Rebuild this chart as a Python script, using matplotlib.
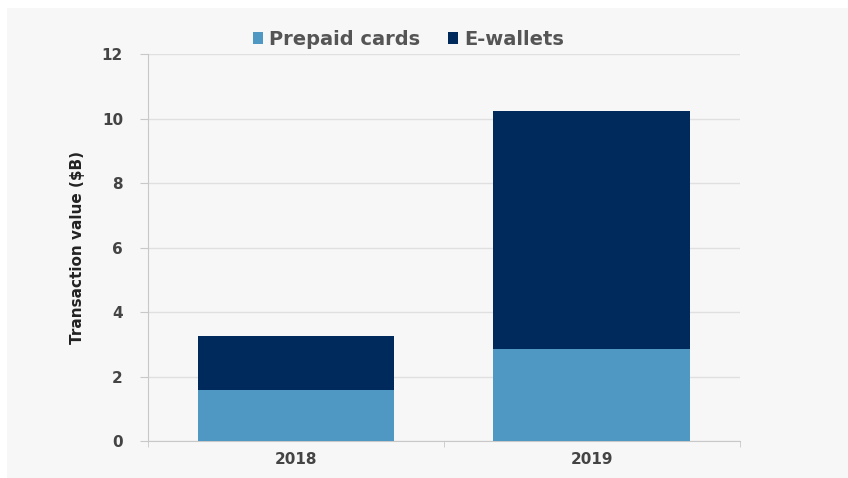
"""Stacked bars: prepaid cards vs e-wallets transaction value."""
import matplotlib.pyplot as plt
import matplotlib.patches as mpatches
import numpy as np

years = ["2018", "2019"]
prepaid = [1.58, 2.86]
ewallets = [1.68, 7.38]
yticks = [0, 2, 4, 6, 8, 10, 12]

PREPAID_C = "#4f98c3"
EWALLET_C = "#012a5c"
BG = "#f7f7f7"

fig = plt.figure(figsize=(8.48, 4.78), dpi=100, facecolor=BG)
# thin white margin along the top and left edges
fig.add_artist(mpatches.Rectangle((0, 1 - 8 / 478), 1, 8 / 478,
                                  transform=fig.transFigure,
                                  facecolor="white", edgecolor="none", zorder=-10))
fig.add_artist(mpatches.Rectangle((0, 0), 7 / 848, 1,
                                  transform=fig.transFigure,
                                  facecolor="white", edgecolor="none", zorder=-10))
ax = fig.add_axes([0.1745, 0.0774, 0.698, 0.8096], facecolor=BG)

x = np.arange(len(years))
ax.bar(x, prepaid, width=0.665, color=PREPAID_C, label="Prepaid cards", zorder=3)
ax.bar(x, ewallets, width=0.665, bottom=prepaid, color=EWALLET_C,
       label="E-wallets", zorder=3)

ax.set_xlim(-0.5, 1.5)
ax.set_ylim(0, 12)
ax.set_yticks(yticks)
ax.set_xticks(x)
ax.set_xticklabels(years)
ax.set_xticks([-0.5, 0.5, 1.5], minor=True)
ax.grid(axis="y", color="#e0e0e0", linewidth=1, zorder=0)

for side in ["top", "right"]:
    ax.spines[side].set_visible(False)
for side in ["left", "bottom"]:
    ax.spines[side].set_color("#c8c8c8")
ax.tick_params(axis="y", colors="#c8c8c8", labelcolor="#444444", labelsize=11,
               length=6, pad=12)
ax.tick_params(axis="x", which="major", length=0, labelcolor="#444444",
               labelsize=11, pad=8)
ax.tick_params(axis="x", which="minor", length=4, colors="#c8c8c8")
for lbl in ax.get_xticklabels() + ax.get_yticklabels():
    lbl.set_fontweight("bold")

ax.set_ylabel("Transaction value ($B)", fontsize=11, fontweight="bold",
              color="#222222", labelpad=12)

leg = ax.legend(loc="lower center", bbox_to_anchor=(0.44, 1.0), ncol=2,
                frameon=False, fontsize=14, handlelength=0.55, handleheight=0.55,
                handletextpad=0.3, columnspacing=1.4, borderaxespad=-0.15)
for t in leg.get_texts():
    t.set_color("#555555")
    t.set_fontweight("bold")

plt.savefig("out.png", dpi=100)
